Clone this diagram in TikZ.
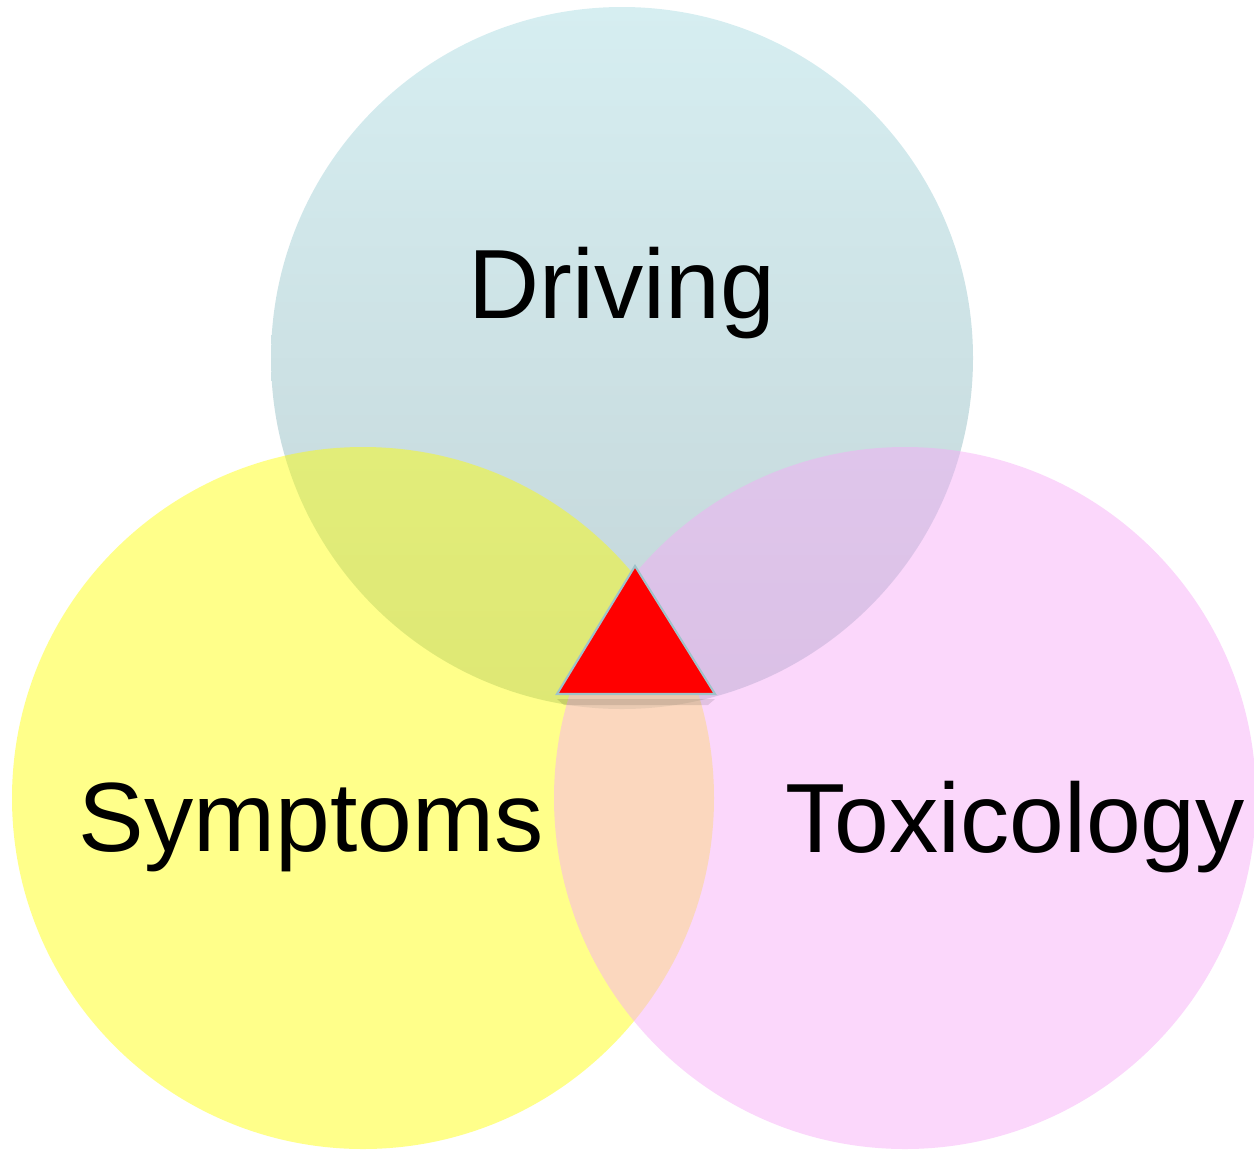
\documentclass[tikz,border=0pt]{standalone}
\usepackage{fontspec}
\setmainfont{Liberation Sans}
\usepackage{tikz}
\usetikzlibrary{positioning}
\definecolor{drivtop}{HTML}{D6EEF1}
\definecolor{drivbot}{HTML}{C3D5D8}
\definecolor{symfill}{RGB}{255,255,0}
\definecolor{toxfill}{RGB}{246,171,246}
\definecolor{triedge}{HTML}{9FC3CA}

\begin{document}
\begin{tikzpicture}[x=0.02cm,y=-0.02cm,
  label/.style={font=\fontsize{56}{60}\selectfont, text=black, inner sep=0pt},
  symset/.style={fill=symfill, fill opacity=0.46},
  toxset/.style={fill=toxfill, fill opacity=0.48},
  marker/.style={fill=red, draw=triedge, line width=1.2pt, line join=miter}]
  \useasboundingbox (0,0) rectangle (1254,1150);
  % sets
  \shade[top color=drivtop, bottom color=drivbot] (622,358) circle (351);
  \fill[symset] (363,798) circle (351);
  \fill[toxset] (905,798) circle (351);
  % labels
  \node[label] (DR) at (622,293) {Driving};
  \node[label] (SY) at (311,827) {Symptoms};
  \node[label] (TX) at (1015,827) {Toxicology};
  % centre
  \fill[black, opacity=0.10] (557,699) -- (715,699) -- (708,705) -- (564,705) -- cycle;
  \filldraw[marker] (635,566) -- (715,694) -- (557,694) -- cycle;
\end{tikzpicture}
\end{document}
